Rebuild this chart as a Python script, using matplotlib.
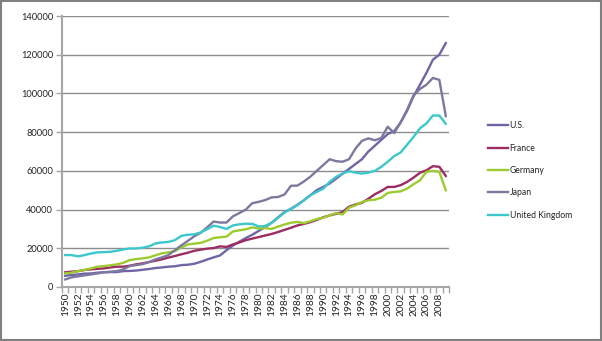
import matplotlib
matplotlib.use("Agg")
import matplotlib.pyplot as plt
from matplotlib.patches import Rectangle
import numpy as np

years = list(range(1950, 2010))

us = [5800, 6200, 6500, 6900, 7000, 7400, 7600, 7700, 7700, 8200,
      8300, 8500, 8900, 9300, 9800, 10100, 10500, 10700, 11300, 11500,
      12000, 13000, 14200, 15300, 16300, 19000, 21400, 23400, 25300, 27000,
      29000, 31000, 33200, 36000, 38700, 40400, 42500, 44800, 47400, 50000,
      51700, 53500, 56000, 58500, 61000, 63500, 66000, 70000, 73000, 76000,
      79000, 80500, 85000, 91000, 98500, 104500, 110600, 117400, 120000, 126000]

france = [7600, 7900, 8200, 8800, 9100, 9400, 9600, 10100, 10500, 10500,
          11000, 11700, 12200, 12900, 13600, 14300, 15200, 16000, 16900, 17700,
          18700, 19300, 19800, 20100, 21000, 20700, 22000, 23000, 24200, 25000,
          25800, 26600, 27400, 28400, 29500, 30600, 31800, 32600, 33500, 34700,
          36000, 37000, 37800, 38700, 41500, 42600, 43500, 45600, 47900, 49600,
          51700, 51700, 52600, 54300, 56500, 59000, 60300, 62400, 62100, 57400]

germany = [7000, 7400, 8200, 8800, 9600, 10500, 10800, 11200, 11700, 12500,
           13900, 14400, 14800, 15300, 16400, 17400, 17900, 18500, 20400, 22000,
           22400, 22800, 23900, 25300, 25700, 26000, 28700, 29300, 29800, 30800,
           30200, 30400, 30000, 31200, 32300, 33200, 33600, 33000, 34000, 35100,
           35800, 37000, 38200, 37500, 41000, 42200, 43900, 44800, 45100, 46100,
           48600, 49100, 49400, 50800, 53100, 55100, 59500, 60000, 59500, 50000]

japan = [3900, 5000, 5500, 6000, 6500, 7000, 7600, 7900, 8200, 9100,
         10800, 11300, 11800, 12900, 14300, 15300, 16500, 19000, 21500, 23800,
         26200, 28000, 30800, 33800, 33300, 33300, 36500, 38200, 40000, 43300,
         44000, 44900, 46300, 46500, 47800, 52300, 52400, 54500, 57000, 60000,
         63000, 66000, 65000, 64700, 66000, 71500, 75500, 76800, 75800, 77000,
         82800, 79500, 85000, 91500, 99000, 102300, 104500, 108000, 107000, 88300]

uk = [16500, 16500, 15800, 16500, 17300, 17900, 18000, 18200, 18700, 19400,
      19900, 19900, 20300, 21000, 22500, 23000, 23300, 24200, 26400, 27000,
      27200, 28200, 29800, 31700, 31000, 30000, 31800, 32400, 32700, 32600,
      31300, 31500, 33200, 35700, 38500, 40300, 42200, 44800, 47400, 49100,
      50800, 54300, 56900, 58600, 59800, 59100, 58600, 59100, 60000, 62100,
      64700, 67600, 69500, 73500, 77500, 82000, 84500, 88600, 88600, 84300]

series = [("U.S.", us, "#6F64A6"),
          ("France", france, "#9C2D61"),
          ("Germany", germany, "#9BCB2F"),
          ("Japan", japan, "#7B7A9E"),
          ("United Kingdom", uk, "#3CC8CA")]

yticks = [0, 20000, 40000, 60000, 80000, 100000, 120000, 140000]

plt.rcParams['font.family'] = ['Lato', 'DejaVu Sans']

fig = plt.figure(figsize=(6.02, 3.41), dpi=100)
ax = fig.add_axes([62/602, 1-287/341, (449-62)/602, (287-16)/341])

x = np.arange(len(years))
for name, vals, col in series:
    ax.plot(x, vals, color=col, lw=1.7, label=name, solid_joinstyle='round')

ax.set_xlim(-0.5, len(years) - 0.5)
ax.set_ylim(0, 140000)
ax.set_yticks(yticks)
ax.set_yticklabels([str(v) for v in yticks], fontsize=6.7, color='#222222')
ax.yaxis.grid(True, color='#8C8C8C', lw=1.0)
ax.set_axisbelow(True)

ax.set_xticks(x[::2])
ax.set_xticklabels([str(y) for y in years[::2]], rotation=90, fontsize=7.3, color='#222222')
ax.set_xticks(np.arange(-0.5, len(years)), minor=True)
ax.tick_params(axis='x', which='major', length=0, pad=4)
ax.tick_params(axis='x', which='minor', length=4, color='#A6A6A6', width=1)
ax.tick_params(axis='y', which='major', length=4, color='#A6A6A6', width=1, pad=2.5)

for s in ['top', 'right']:
    ax.spines[s].set_visible(False)
for s in ['left', 'bottom']:
    ax.spines[s].set_color('#A6A6A6')
    ax.spines[s].set_linewidth(1.5)

leg = ax.legend(loc='center left', bbox_to_anchor=(488/602, 1-170.4/341),
                bbox_transform=fig.transFigure, frameon=False, fontsize=6.2,
                handlelength=2.3, handletextpad=0.2, labelspacing=1.55,
                borderpad=0, borderaxespad=0)
for t in leg.get_texts():
    t.set_color('#222222')

fig.patches.append(Rectangle((0.0015, 0.003), 0.997, 0.994, transform=fig.transFigure,
                             fill=False, edgecolor='#808080', lw=1.5))

fig.savefig("out.png", dpi=100)
